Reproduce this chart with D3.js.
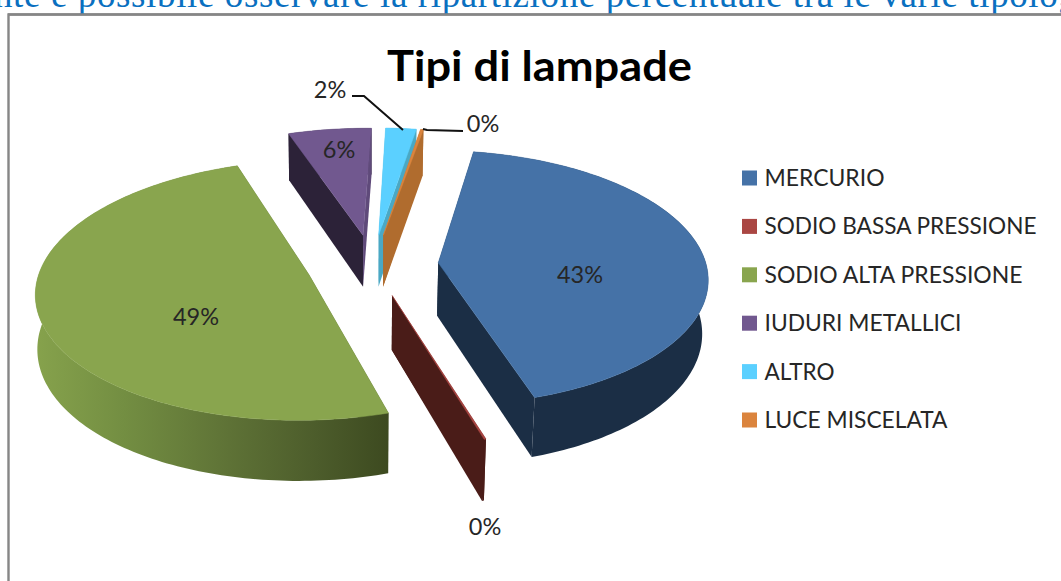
<!DOCTYPE html>
<html><head><meta charset="utf-8">
<script src="https://cdn.jsdelivr.net/npm/d3@7/dist/d3.min.js"></script>
<style>html,body{margin:0;padding:0;background:#fff;overflow:hidden}svg{display:block}text{font-family:Lato,sans-serif}</style>
</head><body><svg id="c" width="1061" height="581"></svg>
<script>
const categories = ["MERCURIO","SODIO BASSA PRESSIONE","SODIO ALTA PRESSIONE","IUDURI METALLICI","ALTRO","LUCE MISCELATA"];
const values = [42.5,0.1,49.4,5.7,2.1,0.2];
const topColors = ["#4572a7","#aa4643","#89a54e","#71588f","#5bd0ff","#db843d"];
const wallColors = ["#1b2e45","#4a1c18","url(#greenWall)","#2c2238","#4aa8c4","#b06c2e"];
const title = "Tipi di lampade";
const headerText = "nte è possibile osservare la ripartizione percentuale tra le varie tipologie";

const W=1061,H=581;
const svg=d3.select("#c");
const cx=372.5, cy=265, A=268, B=126, K=0.117, EX=0.2463, DEPTH=53, SHRINK_R=0.982, SHRINK_L=0.994, SKEW=2.5;

const pieGen=d3.pie().sort(null).value(d=>d).startAngle(9.5*Math.PI/180).endAngle((360+9.5)*Math.PI/180);
const arcs=pieGen(values);

function proj(X,Z,bottom){
  const s=1/(1+K*Z);
  let x=A*X*s, y=-B*Z*s;
  if(bottom){x*=(x>0?SHRINK_R:SHRINK_L); y+=DEPTH*s;}
  return [cx+x+SKEW*Z,cy+y];
}
function pt(a,theta,r,bottom){
  const mid=(a.startAngle+a.endAngle)/2;
  return proj(EX*Math.sin(mid)+r*Math.sin(theta), EX*Math.cos(mid)+r*Math.cos(theta), bottom);
}
function rimPts(a,bottom){
  const n=Math.max(2,Math.ceil((a.endAngle-a.startAngle)/0.02));
  return d3.range(n+1).map(i=>pt(a,a.startAngle+(a.endAngle-a.startAngle)*i/n,1,bottom));
}
const line=d3.line().curve(d3.curveLinear);
const closed=p=>line(p)+"Z";

const defs=svg.append("defs");
const g=defs.append("linearGradient").attr("id","greenWall").attr("gradientUnits","userSpaceOnUse")
  .attr("x1",36).attr("x2",388).attr("y1",0).attr("y2",0);
[[0,"#86a24c"],[0.25,"#738e42"],[0.55,"#5e7236"],[0.8,"#4c5c2b"],[1,"#3d4a20"]].forEach(s=>g.append("stop").attr("offset",s[0]).attr("stop-color",s[1]));

// frame
svg.append("rect").attr("x",8.5).attr("y",14.5).attr("width",W+20).attr("height",H+20).attr("fill","#fff").attr("stroke","#868686").attr("stroke-width",2.4);

// header line, clipped by the window
svg.append("text").attr("x",-6).attr("y",7).attr("font-size",37).attr("letter-spacing",0.62).attr("fill","#0a70c0")
  .style("font-family","'Liberation Serif',serif").text(headerText);
svg.append("rect").attr("x",8).attr("y",13.3).attr("width",W).attr("height",2.4).attr("fill","#868686");

// painter's order: far slices first
const order=[3,4,5,0,2,1];
const endShade=[null,null,null,"#5f4a7a",null,null];
order.forEach(i=>{
  const a=arcs[i], c=svg.append("g").attr("class","slice");
  const wall=wallColors[i];
  const topRim=rimPts(a,false), botRim=rimPts(a,true);
  const apexT=pt(a,0,0,false), apexB=pt(a,0,0,true);
  // rim wall
  c.append("path").attr("d",closed(topRim.concat(botRim.slice().reverse()))).attr("fill",wall);
  // radial walls
  c.append("path").attr("d",closed([apexT,topRim[0],botRim[0],apexB])).attr("fill",wall);
  c.append("path").attr("d",closed([apexT,topRim[topRim.length-1],botRim[botRim.length-1],apexB])).attr("fill",endShade[i]||wall);
  // top face
  c.append("path").attr("d",closed([apexT].concat(topRim))).attr("fill",topColors[i]).attr("stroke",topColors[i]).attr("stroke-width",0.5);
});

// title
svg.append("text").attr("x",387).attr("y",81).attr("font-size",42).attr("font-weight",700).attr("fill","#000")
  .attr("textLength",305).attr("lengthAdjust","spacingAndGlyphs").text(title);

// data labels
const pctLabels=values.map(v=>d3.format(".0f")(v)+"%");
const labelPos=[[580,275],[485,527],[196,317],[339,150],[330,90],[483,124]];
pctLabels.forEach((t,i)=>svg.append("text").attr("x",labelPos[i][0]).attr("y",labelPos[i][1]).attr("dy","0.35em")
  .attr("text-anchor","middle").attr("font-size",23.5).attr("fill","#262626").text(t));

// leader lines
[[[352,96],[364,96],[403,130]],[[463,131],[427,130],[423,129]]].forEach(p=>
  svg.append("path").attr("d",line(p)).attr("fill","none").attr("stroke","#111").attr("stroke-width",2));

// legend
const legendWidths=[120,272,258,197,70,183];
const legendY=d3.scalePoint().domain(categories).range([178,420]);
const leg=svg.selectAll("g.leg").data(categories).join("g").attr("class","leg").attr("transform",d=>`translate(0,${legendY(d)})`);
leg.append("rect").attr("x",742).attr("y",-7.5).attr("width",15).attr("height",15).attr("fill",(d,i)=>topColors[i]);
leg.append("text").attr("x",764.5).attr("dy","0.35em").attr("font-size",23).attr("fill","#262626")
  .attr("textLength",(d,i)=>legendWidths[i]).attr("lengthAdjust","spacingAndGlyphs").text(d=>d);
</script></body></html>
